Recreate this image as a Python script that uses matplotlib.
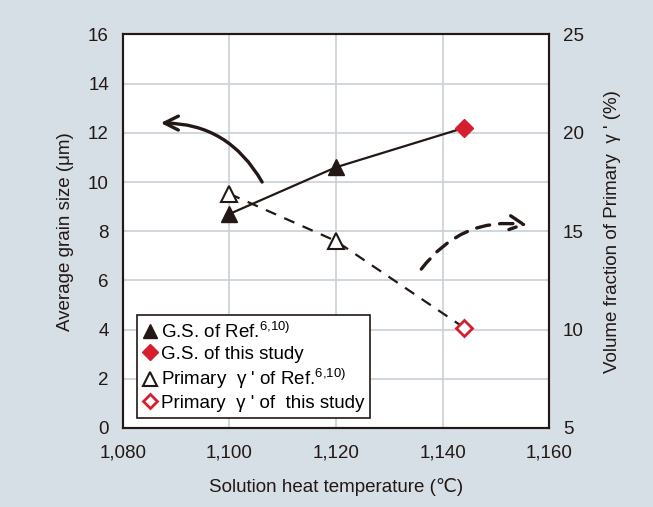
import numpy as np
import matplotlib.pyplot as plt
from matplotlib.lines import Line2D

plt.rcParams['font.family'] = ['Liberation Sans', 'DejaVu Sans']
plt.rcParams['mathtext.fontset'] = 'custom'
plt.rcParams['mathtext.rm'] = 'Liberation Sans'

# grain size (left axis)
gs_ref_t = [1100, 1120]
gs_ref = [8.7, 10.6]
gs_this_t = [1144]
gs_this = [12.2]

# primary gamma' fraction (right axis)
gp_ref_t = [1100, 1120]
gp_ref = [16.9, 14.5]
gp_this_t = [1144]
gp_this = [10.1]

red = '#d51f2e'
ink = '#231815'
bg = '#d6dfe6'
fs = 13.5

fig = plt.figure(figsize=(6.53, 5.07), dpi=100, facecolor=bg)
ax = fig.add_axes([0.188, 0.156, 0.653, 0.776])
ax2 = ax.twinx()

ax.set_xlim(1080, 1160)
ax.set_ylim(0, 16)
ax.set_xticks(np.arange(1080, 1161, 20))
ax.set_xticklabels(['1,080', '1,100', '1,120', '1,140', '1,160'])
ax.set_yticks(np.arange(0, 17, 2))
ax2.set_ylim(5, 25)
ax2.set_yticks(np.arange(5, 26, 5))
ax.grid(True, color='#c9d0d8', lw=1.2)
ax.set_axisbelow(True)

# solid line through grain size points
ax.plot(gs_ref_t + gs_this_t, gs_ref + gs_this, color=ink, lw=1.6, zorder=2)
ax.plot(gs_ref_t, gs_ref, ls='none', marker='^', ms=11, color=ink, zorder=3)
ax.plot(gs_this_t, gs_this, ls='none', marker='D', ms=9, color=red, zorder=3)

# dashed line through gamma' points
ax2.plot(gp_ref_t + gp_this_t, gp_ref + gp_this, color=ink, lw=1.6,
         ls=(0, (5, 4)), zorder=2)
ax2.plot(gp_ref_t, gp_ref, ls='none', marker='^', ms=11, mfc='white',
         mec=ink, mew=1.5, zorder=3)
ax2.plot(gp_this_t, gp_this, ls='none', marker='D', ms=8.5, mfc='white',
         mec=red, mew=2, zorder=3)

# trend arrows
ax.annotate('', xy=(1086.6, 12.4), xytext=(1106.4, 9.9),
            arrowprops=dict(arrowstyle='->,head_length=1.0,head_width=0.5',
                            connectionstyle='arc3,rad=0.3', lw=2.4, color=ink))
ax.annotate('', xy=(1156.4, 8.24), xytext=(1135.7, 6.37),
            arrowprops=dict(arrowstyle='->,head_length=1.0,head_width=0.5',
                            connectionstyle='arc3,rad=-0.3', lw=2.4, ls=(0, (4, 3)),
                            color=ink))

for a in (ax, ax2):
    a.tick_params(length=0, labelsize=fs, colors=ink)
    for s in a.spines.values():
        s.set_color(ink)
        s.set_linewidth(1.5)
ax.tick_params(axis='y', pad=10)
ax.tick_params(axis='x', pad=12)
ax2.tick_params(axis='y', pad=10)

ax.set_xlabel('Solution heat temperature (\u2103)', fontsize=fs, color=ink, labelpad=12)
ax.set_ylabel('Average grain size (\u03bcm)', fontsize=fs, color=ink, labelpad=10)
ax2.set_ylabel("Volume fraction of Primary  \u03b3 ' (%)", fontsize=fs,
               color=ink, labelpad=14)

sup = r'$^{\mathregular{6{,}10)}}$'
handles = [
    Line2D([], [], ls='none', marker='^', ms=10, color=ink),
    Line2D([], [], ls='none', marker='D', ms=8, color=red),
    Line2D([], [], ls='none', marker='^', ms=10, mfc='white', mec=ink, mew=1.5),
    Line2D([], [], ls='none', marker='D', ms=7.5, mfc='white', mec=red, mew=2),
]
labels = ['G.S. of Ref.' + sup, 'G.S. of this study',
          "Primary  \u03b3 ' of Ref." + sup, "Primary  \u03b3 ' of  this study"]
leg = ax2.legend(handles, labels, loc='lower left', bbox_to_anchor=(0.033, 0.026),
                 borderaxespad=0, fontsize=fs, handlelength=0.8, handletextpad=0.2,
                 labelspacing=0.2, borderpad=0.3, fancybox=False, framealpha=1,
                 edgecolor=ink)
leg.get_frame().set_linewidth(1.2)
leg.set_zorder(10)

fig.savefig('out.png', dpi=100, facecolor=bg)
